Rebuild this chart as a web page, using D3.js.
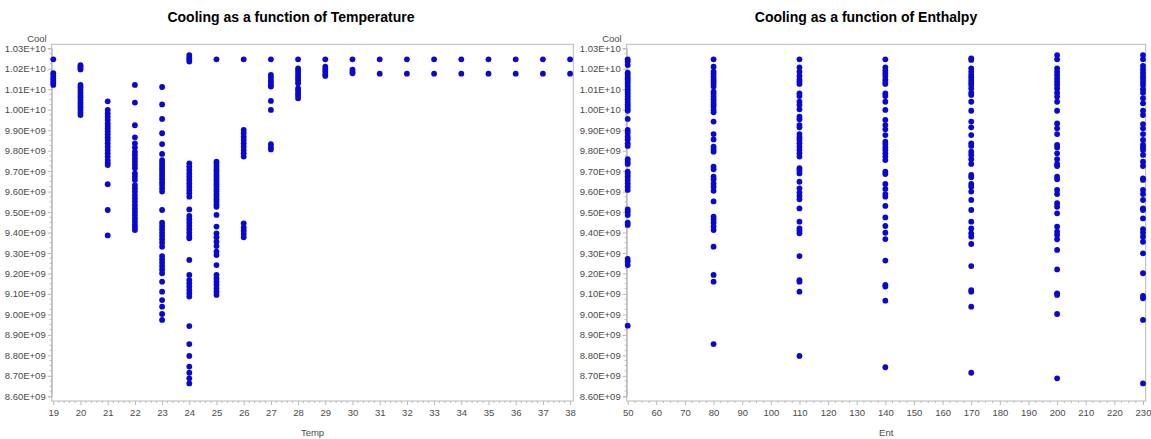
<!DOCTYPE html>
<html>
<head>
<meta charset="utf-8">
<script src="https://cdn.jsdelivr.net/npm/d3@7/dist/d3.min.js"></script>
<style>
  html, body { margin: 0; padding: 0; background: #fff; }
  svg { display: block; font-family: "Liberation Sans", Arial, sans-serif; }
</style>
</head>
<body>
<svg id="chart" width="1151" height="439"></svg>
<script>
// ---------------- DATA (Cool values in units of 1E+09) ----------------
const COOL_UNIT = 1e9;

const tempValues = [19,20,21,22,23,24,25,26,27,28,29,30,31,32,33,34,35,36,37,38];
const coolByTemp = [
  [10.246,10.178,10.165,10.153,10.142,10.132,10.121],
  [10.218,10.211,10.204,10.197,10.121,10.110,10.097,10.084,10.072,10.061,10.048,10.035,10.023,10.012,9.999,9.986,9.974],
  [10.041,9.999,9.982,9.966,9.950,9.933,9.920,9.907,9.893,9.880,9.865,9.852,9.836,9.819,9.803,9.787,9.771,9.754,9.741,9.730,9.636,9.510,9.386],
  [10.121,10.035,9.924,9.865,9.836,9.816,9.795,9.779,9.762,9.746,9.730,9.714,9.689,9.673,9.657,9.632,9.616,9.600,9.583,9.567,9.551,9.534,9.518,9.502,9.486,9.469,9.453,9.437,9.424,9.412],
  [10.111,10.026,9.955,9.885,9.832,9.784,9.754,9.741,9.728,9.714,9.701,9.686,9.673,9.660,9.645,9.632,9.616,9.600,9.510,9.448,9.432,9.416,9.399,9.383,9.367,9.350,9.331,9.285,9.269,9.253,9.236,9.220,9.201,9.160,9.111,9.070,9.038,9.002,8.973],
  [10.267,10.256,10.246,10.235,9.738,9.722,9.706,9.689,9.673,9.657,9.640,9.624,9.608,9.592,9.575,9.513,9.481,9.465,9.448,9.432,9.416,9.399,9.383,9.372,9.266,9.193,9.168,9.152,9.136,9.119,9.103,9.087,8.943,8.855,8.797,8.745,8.715,8.688,8.663],
  [10.246,9.746,9.735,9.722,9.709,9.697,9.684,9.673,9.660,9.648,9.636,9.624,9.611,9.600,9.587,9.575,9.562,9.551,9.538,9.526,9.486,9.429,9.396,9.377,9.355,9.334,9.307,9.290,9.241,9.193,9.176,9.160,9.144,9.127,9.111,9.095],
  [10.246,9.901,9.885,9.868,9.852,9.836,9.819,9.803,9.787,9.771,9.445,9.425,9.409,9.393,9.377],
  [10.246,10.170,10.158,10.145,10.134,10.121,10.113,10.043,9.999,9.832,9.819,9.806],
  [10.246,10.202,10.191,10.178,10.165,10.153,10.142,10.129,10.104,10.093,10.080,10.069,10.056],
  [10.246,10.210,10.197,10.186,10.174,10.165],
  [10.246,10.196,10.186,10.178],
  [10.246,10.176],
  [10.246,10.176],
  [10.246,10.176],
  [10.246,10.176],
  [10.246,10.176],
  [10.246,10.176],
  [10.246,10.176],
  [10.246,10.176]
];

const entValues = [50,80,110,140,170,200,230];
const coolByEnt = [
  [10.246,10.235,10.218,10.181,10.170,10.158,10.148,10.137,10.126,10.113,10.100,10.088,10.077,10.064,10.051,10.038,10.026,10.015,10.003,9.995,9.955,9.901,9.888,9.868,9.855,9.836,9.823,9.758,9.745,9.735,9.697,9.686,9.673,9.657,9.640,9.624,9.608,9.513,9.502,9.486,9.448,9.437,9.271,9.258,9.241,8.945],
  [10.246,10.210,10.186,10.174,10.161,10.148,10.137,10.126,10.113,10.088,10.077,10.064,10.051,10.038,10.026,10.015,9.999,9.987,9.942,9.881,9.855,9.819,9.806,9.795,9.722,9.709,9.673,9.660,9.640,9.624,9.604,9.552,9.477,9.464,9.448,9.429,9.412,9.331,9.193,9.160,8.855],
  [10.246,10.207,10.186,10.165,10.148,10.137,10.126,10.080,10.067,10.039,10.023,10.002,9.966,9.953,9.925,9.914,9.881,9.865,9.852,9.836,9.819,9.803,9.787,9.771,9.714,9.702,9.689,9.648,9.616,9.595,9.579,9.562,9.518,9.453,9.420,9.409,9.396,9.285,9.168,9.160,9.111,8.797],
  [10.246,10.207,10.191,10.178,10.165,10.148,10.137,10.126,10.080,10.067,10.039,9.999,9.950,9.925,9.904,9.876,9.844,9.832,9.816,9.803,9.787,9.771,9.754,9.697,9.686,9.637,9.613,9.588,9.575,9.530,9.474,9.432,9.399,9.368,9.263,9.144,9.136,9.067,8.742],
  [10.251,10.243,10.202,10.186,10.170,10.158,10.145,10.132,10.121,10.104,10.083,10.072,10.039,9.995,9.942,9.914,9.876,9.836,9.823,9.795,9.779,9.758,9.735,9.681,9.670,9.637,9.624,9.600,9.559,9.510,9.453,9.420,9.396,9.380,9.344,9.236,9.119,9.111,9.038,8.715],
  [10.267,10.246,10.202,10.186,10.170,10.153,10.137,10.121,10.104,10.083,10.064,10.039,9.995,9.933,9.909,9.881,9.828,9.816,9.787,9.758,9.735,9.725,9.673,9.660,9.608,9.588,9.543,9.526,9.494,9.429,9.404,9.388,9.367,9.315,9.220,9.103,9.095,9.002,8.688],
  [10.267,10.246,10.214,10.197,10.181,10.165,10.153,10.137,10.121,10.100,10.083,10.056,10.031,9.995,9.974,9.930,9.909,9.881,9.852,9.828,9.816,9.803,9.779,9.746,9.725,9.665,9.657,9.608,9.588,9.559,9.518,9.510,9.469,9.416,9.399,9.380,9.355,9.298,9.201,9.090,9.079,8.973,8.663]
];

const yTicks = [8.6,8.7,8.8,8.9,9.0,9.1,9.2,9.3,9.4,9.5,9.6,9.7,9.8,9.9,10.0,10.1,10.2,10.3];
const tempTicks = [19,20,21,22,23,24,25,26,27,28,29,30,31,32,33,34,35,36,37,38];
const entTicks = [50,60,70,80,90,100,110,120,130,140,150,160,170,180,190,200,210,220,230];

const titles = ["Cooling as a function of Temperature", "Cooling as a function of Enthalpy"];
const xLabels = ["Temp", "Ent"];
const yLabel = "Cool";

// ---------------- STYLE ----------------
const dotColor = "#0808d0";
const frameColor = "#b8b8b8";
const textColor = "#4a4a4a";

function sasExp(v) {
  const s = (v * COOL_UNIT).toExponential(2);
  const [m, e] = s.split("e");
  const sign = e[0] === "-" ? "-" : "+";
  const digits = e.replace(/[+-]/, "").padStart(2, "0");
  return m + "E" + sign + digits;
}

const svg = d3.select("#chart");

const panels = [
  { frame: [51.7, 573.3], xr: [53.3, 570.1], domain: [19, 38], ticks: tempTicks, minorPer: 5,
    xs: tempValues, ys: coolByTemp, title: titles[0], xlabel: xLabels[0], titleX: 291 },
  { frame: [626.7, 1145.7], xr: [627.7, 1143.0], domain: [50, 230], ticks: entTicks, minorPer: 4,
    xs: entValues, ys: coolByEnt, title: titles[1], xlabel: xLabels[1], titleX: 866 }
];

const frameTop = 44.3, frameBottom = 401;
const y = d3.scaleLinear().domain([8.6, 10.3]).range([396.3, 48.3]);

panels.forEach(p => {
  const x = d3.scaleLinear().domain(p.domain).range(p.xr);
  const g = svg.append("g");

  // frame
  g.append("rect")
    .attr("x", p.frame[0]).attr("y", frameTop)
    .attr("width", p.frame[1] - p.frame[0]).attr("height", frameBottom - frameTop)
    .attr("fill", "none").attr("stroke", frameColor).attr("stroke-width", 1);

  // y axis
  const yAxis = d3.axisLeft(y).tickValues(yTicks).tickFormat(sasExp).tickSize(4).tickPadding(2);
  const ya = g.append("g").attr("transform", `translate(${p.frame[0]},0)`).call(yAxis);
  ya.select(".domain").attr("stroke", frameColor);
  ya.selectAll(".tick line").attr("stroke", frameColor);
  ya.selectAll(".tick text").attr("fill", textColor).style("font-size", "9.5px");
  // y minor ticks
  const yMinor = [];
  for (let i = 0; i < yTicks.length - 1; i++) {
    for (let k = 1; k < 4; k++) yMinor.push(yTicks[i] + (yTicks[i + 1] - yTicks[i]) * k / 4);
  }
  g.append("g").selectAll("line").data(yMinor).join("line")
    .attr("x1", p.frame[0] - 2).attr("x2", p.frame[0])
    .attr("y1", d => y(d)).attr("y2", d => y(d))
    .attr("stroke", frameColor);

  // x axis
  const xAxis = d3.axisBottom(x).tickValues(p.ticks).tickFormat(d3.format("d")).tickSize(4).tickPadding(4);
  const xa = g.append("g").attr("transform", `translate(0,${frameBottom})`).call(xAxis);
  xa.select(".domain").remove();
  xa.selectAll(".tick line").attr("stroke", frameColor);
  xa.selectAll(".tick text").attr("fill", textColor).style("font-size", "9.5px");
  const xMinor = [];
  for (let i = 0; i < p.ticks.length - 1; i++) {
    for (let k = 1; k < p.minorPer; k++) xMinor.push(p.ticks[i] + (p.ticks[i + 1] - p.ticks[i]) * k / p.minorPer);
  }
  g.append("g").selectAll("line").data(xMinor).join("line")
    .attr("x1", d => x(d)).attr("x2", d => x(d))
    .attr("y1", frameBottom).attr("y2", frameBottom + 2)
    .attr("stroke", frameColor);

  // labels
  g.append("text").attr("x", p.titleX).attr("y", 22).attr("text-anchor", "middle")
    .style("font-size", "14px").style("font-weight", "bold").attr("fill", "#000").text(p.title);
  g.append("text").attr("x", (p.frame[0] + p.frame[1]) / 2).attr("y", 436).attr("text-anchor", "middle")
    .style("font-size", "9.5px").attr("fill", textColor).text(p.xlabel);
  g.append("text").attr("x", p.frame[0] - 5).attr("y", 42).attr("text-anchor", "end")
    .style("font-size", "9.5px").attr("fill", textColor).text(yLabel);

  // points
  const pts = [];
  p.xs.forEach((xv, i) => p.ys[i].forEach(v => pts.push([xv, v])));
  g.append("g").selectAll("circle").data(pts).join("circle")
    .attr("cx", d => x(d[0])).attr("cy", d => y(d[1])).attr("r", 2.9)
    .attr("fill", dotColor);
});
</script>
</body>
</html>
